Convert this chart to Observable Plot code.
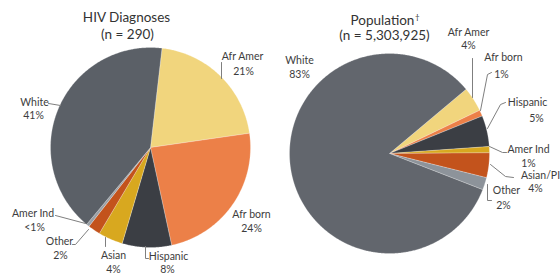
<!DOCTYPE html>
<html><head><meta charset="utf-8">
<script src="https://cdn.jsdelivr.net/npm/d3@7"></script>
<script src="https://cdn.jsdelivr.net/npm/@observablehq/plot@0.6"></script>
<style>html,body{margin:0;padding:0;background:#fff;overflow:hidden}</style>
</head><body><div id="chart"></div>
<script>
// ---- data ----
const hivCategories = ["Afr Amer","Afr born","Hispanic","Asian","Other","Amer Ind","White"];
const hivValues = [21, 24, 8, 4, 2, 0.5, 41];
const hivLabels = ["21%","24%","8%","4%","2%","<1%","41%"];
const popCategories = ["Afr Amer","Afr born","Hispanic","Amer Ind","Asian/PI","Other","White"];
const popValues = [4, 1, 5, 1, 4, 2, 83];
const popLabels = ["4%","1%","5%","1%","4%","2%","83%"];
const titles = ["HIV Diagnoses","Population"];
const titleMarks = ["","\u2020"];
const subtitles = ["(n = 290)","(n = 5,303,925)"];

// ---- style / layout ----
const hivColors = ["#f1d57d","#ec8048","#3b3e44","#d8a81f","#c3531c","#9aa0a6","#5b6067"];
const popColors = ["#f1d57d","#ec8048","#3b3e44","#d8a81f","#c3531c","#8d939a","#62666d"];
const pies = [
  {center:[150,147], r:100, start:6.6, values:hivValues, colors:hivColors},
  {center:[389,153], r:100, start:50,  values:popValues, colors:popColors}
];
// [nameX, nameBaseline, pctX, pctBaseline]
const hivLabelPos = [[242,59.5,243,74],[251,217,251,231],[168,259,167,272.5],[113,258.5,113,272.5],[59,244,60,258.5],[32.5,216,34,230],[34,105,33,118.5]];
const popLabelPos = [[468,35,468,48.5],[503,60.5,501,77],[527,105,536,121.5],[528,152.5,528,166],[540,178,535,191],[506,193.5,503,208.5],[299,63,299,77]];
const hivLeaders = [[[221,62],[221,78]], null, [[145,246],[145,258],[148,258]], [[105,237],[105,246]], [[72,244],[75,244],[88,229]], [[55,215],[85,223]], [[48,103],[60,105]]];
const popLeaders = [[[472,58],[472,97]], [[491,72],[487,74],[480,110]], [[505,102],[500,104],[487,128]], [[506,152],[502,152],[489,146]], [[513,177],[505,176],[490,164]], [[491,200],[487,200],[487,184]], null];
const titlePos = [[126,21,127,38],[382,24,384,39]];

// ---- build geometry from values ----
const slicePts = [];
pies.forEach((p, pi) => {
  const a0 = p.start * Math.PI / 180;
  const arcs = d3.pie().sort(null).startAngle(a0).endAngle(a0 + 2*Math.PI)(p.values);
  arcs.forEach((a, i) => {
    const id = pi + "-" + i;
    const [cx, cy] = p.center;
    slicePts.push({id, color:p.colors[i], x:cx, y:cy});
    const n = Math.max(2, Math.ceil((a.endAngle - a.startAngle) / (Math.PI/360)));
    for (let k = 0; k <= n; k++) {
      const t = a.startAngle + (a.endAngle - a.startAngle) * k / n;
      slicePts.push({id, color:p.colors[i], x:cx + p.r*Math.sin(t), y:cy - p.r*Math.cos(t)});
    }
    slicePts.push({id, color:p.colors[i], x:cx, y:cy});
  });
});

const labelRows = [];
const leaderPts = [];
[[hivCategories,hivLabels,hivLabelPos,hivLeaders],[popCategories,popLabels,popLabelPos,popLeaders]].forEach(([cats,labs,pos,leads], pi) => {
  cats.forEach((c, i) => {
    labelRows.push({name:c, pct:labs[i], nx:pos[i][0], ny:pos[i][1], px:pos[i][2], py:pos[i][3]});
    if (leads[i]) leads[i].forEach(([x,y]) => leaderPts.push({id:pi+"-"+i, x, y}));
  });
});
const titleRows = titles.map((t, i) => ({t, m:titleMarks[i], s:subtitles[i], tx:titlePos[i][0], ty:titlePos[i][1], sx:titlePos[i][2], sy:titlePos[i][3]}));

const chart = Plot.plot({
  width: 560, height: 274,
  margin: 0,
  x: {domain:[0,560], range:[0,560], axis:null},
  y: {domain:[0,274], range:[0,274], axis:null},
  color: {type:"identity"},
  style: {fontFamily:"Lato, 'Open Sans', sans-serif", background:"#fff", overflow:"hidden"},
  marks: [
    Plot.line(slicePts, {x:"x", y:"y", z:"id", fill:"color", stroke:"#ffffff", strokeWidth:0.4, strokeOpacity:0.6, curve:"linear"}),
    Plot.line(leaderPts, {x:"x", y:"y", z:"id", stroke:"#7f7f7f", strokeWidth:1, curve:"linear"}),
    Plot.text(labelRows, {x:"nx", y:"ny", text:"name", lineAnchor:"bottom", fontSize:10.5, fill:"#3d3d3d"}),
    Plot.text(labelRows, {x:"px", y:"py", text:"pct", lineAnchor:"bottom", fontSize:10.5, fill:"#3d3d3d"}),
    Plot.text(titleRows, {x:"tx", y:"ty", text:"t", lineAnchor:"bottom", fontSize:13.5, fill:"#333"}),
    Plot.text(titleRows, {x:"tx", y:"ty", text:"m", lineAnchor:"bottom", textAnchor:"start", dx:32.5, dy:-5, fontSize:8, fill:"#333"}),
    Plot.text(titleRows, {x:"sx", y:"sy", text:"s", lineAnchor:"bottom", fontSize:13.5, fill:"#333"})
  ]
});
document.getElementById("chart").appendChild(chart);
</script>
</body></html>
